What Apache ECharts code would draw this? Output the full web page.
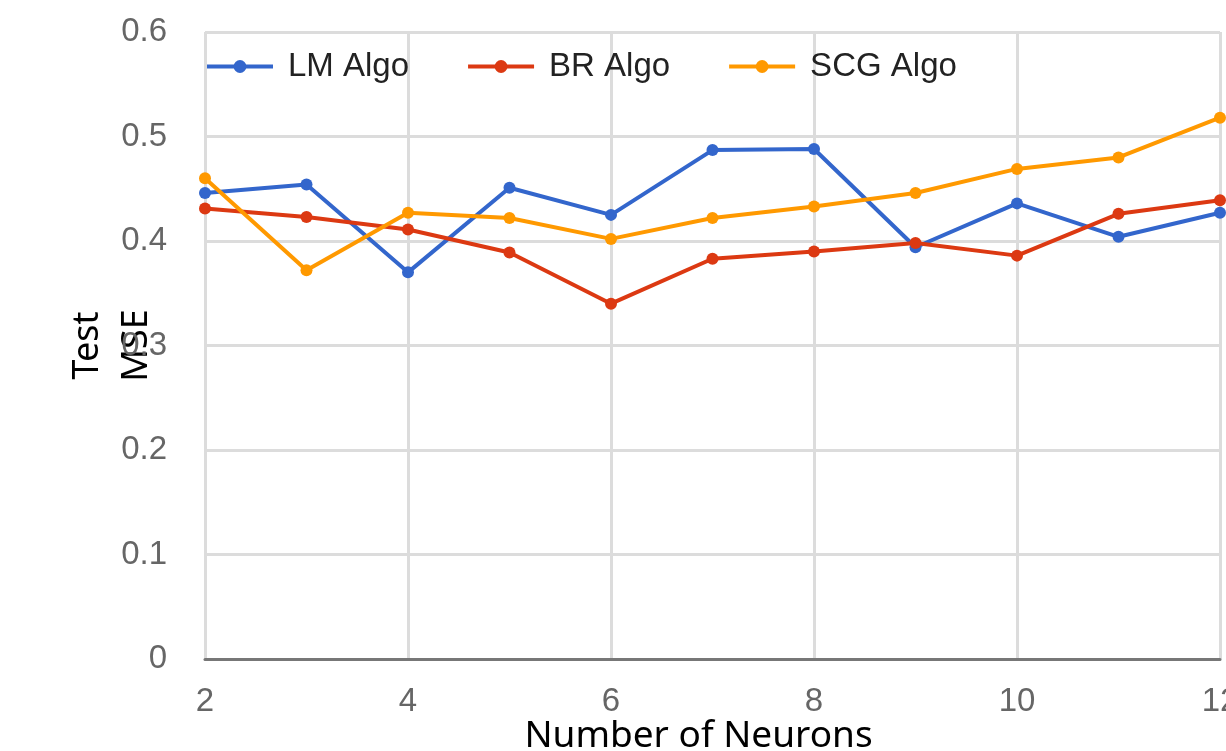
<!DOCTYPE html>
<html>
<head>
<meta charset="utf-8">
<title>Test MSE vs Number of Neurons</title>
<script src="https://cdn.jsdelivr.net/npm/echarts@6/dist/echarts.min.js"></script>
<style>
  html, body { margin: 0; padding: 0; background: #fff; }
  #chart { width: 1226px; height: 751px; }
</style>
</head>
<body>
<div id="chart"></div>
<script>
// Number of hidden neurons tried
const neurons = [2, 3, 4, 5, 6, 7, 8, 9, 10, 11, 12];

// Test MSE for each training algorithm
const lmAlgo  = [0.446, 0.454, 0.370, 0.451, 0.425, 0.487, 0.488, 0.394, 0.436, 0.404, 0.427];
const brAlgo  = [0.431, 0.423, 0.411, 0.389, 0.340, 0.383, 0.390, 0.398, 0.386, 0.426, 0.439];
const scgAlgo = [0.460, 0.372, 0.427, 0.422, 0.402, 0.422, 0.433, 0.446, 0.469, 0.480, 0.518];

const seriesNames = ['LM Algo', 'BR Algo', 'SCG Algo'];
const seriesColors = ['#3366cc', '#dc3912', '#ff9900'];
const seriesValues = [lmAlgo, brAlgo, scgAlgo];

const pairs = vals => neurons.map((n, i) => [n, vals[i]]);

const chart = echarts.init(document.getElementById('chart'), null, { renderer: 'canvas' });

chart.setOption({
  animation: false,
  backgroundColor: '#ffffff',
  grid: {
    left: 205, right: 6, top: 32, bottom: 92,
    containLabel: false,
    outerBoundsMode: 'none'
  },
  legend: {
    data: seriesNames,
    left: 205,
    top: 50,
    padding: 0,
    itemGap: 57,
    itemWidth: 66,
    itemHeight: 16,
    lineStyle: { width: 4 },
    textStyle: {
      fontFamily: 'Liberation Sans',
      fontSize: 33,
      color: '#222',
      padding: [0, 0, 0, 10]
    }
  },
  xAxis: {
    type: 'value',
    min: 2,
    max: 12,
    interval: 2,
    name: 'Number of Neurons',
    nameLocation: 'middle',
    nameGap: 59,
    nameMoveOverlap: false,
    nameTextStyle: {
      fontFamily: 'Noto Sans',
      fontSize: 37,
      color: '#000',
      padding: [0, 28, 0, 0]
    },
    axisLine: { show: true, lineStyle: { color: '#777', width: 3 } },
    axisTick: { show: false },
    axisLabel: {
      fontFamily: 'Liberation Sans',
      fontSize: 33,
      color: '#666',
      margin: 26
    },
    splitLine: { show: true, lineStyle: { color: '#dcdcdc', width: 3 } }
  },
  yAxis: {
    type: 'value',
    min: 0,
    max: 0.6,
    interval: 0.1,
    name: 'Test\nMSE',
    nameLocation: 'middle',
    nameRotate: 90,
    nameGap: 44,
    nameMoveOverlap: false,
    nameTextStyle: {
      fontFamily: 'Noto Sans',
      fontSize: 36,
      lineHeight: 49,
      color: '#000'
    },
    axisLine: { show: false },
    axisTick: { show: false },
    axisLabel: {
      fontFamily: 'Liberation Sans',
      fontSize: 33,
      color: '#666',
      margin: 38,
      formatter: v => (v === 0 ? '0' : v.toFixed(1))
    },
    splitLine: { show: true, lineStyle: { color: '#dcdcdc', width: 3 } }
  },
  series: seriesNames.map((name, k) => ({
    name: name,
    type: 'line',
    data: pairs(seriesValues[k]),
    symbol: 'circle',
    symbolSize: 12,
    showSymbol: true,
    clip: false,
    itemStyle: { color: seriesColors[k] },
    lineStyle: { color: seriesColors[k], width: 4 }
  }))
});
</script>
</body>
</html>
